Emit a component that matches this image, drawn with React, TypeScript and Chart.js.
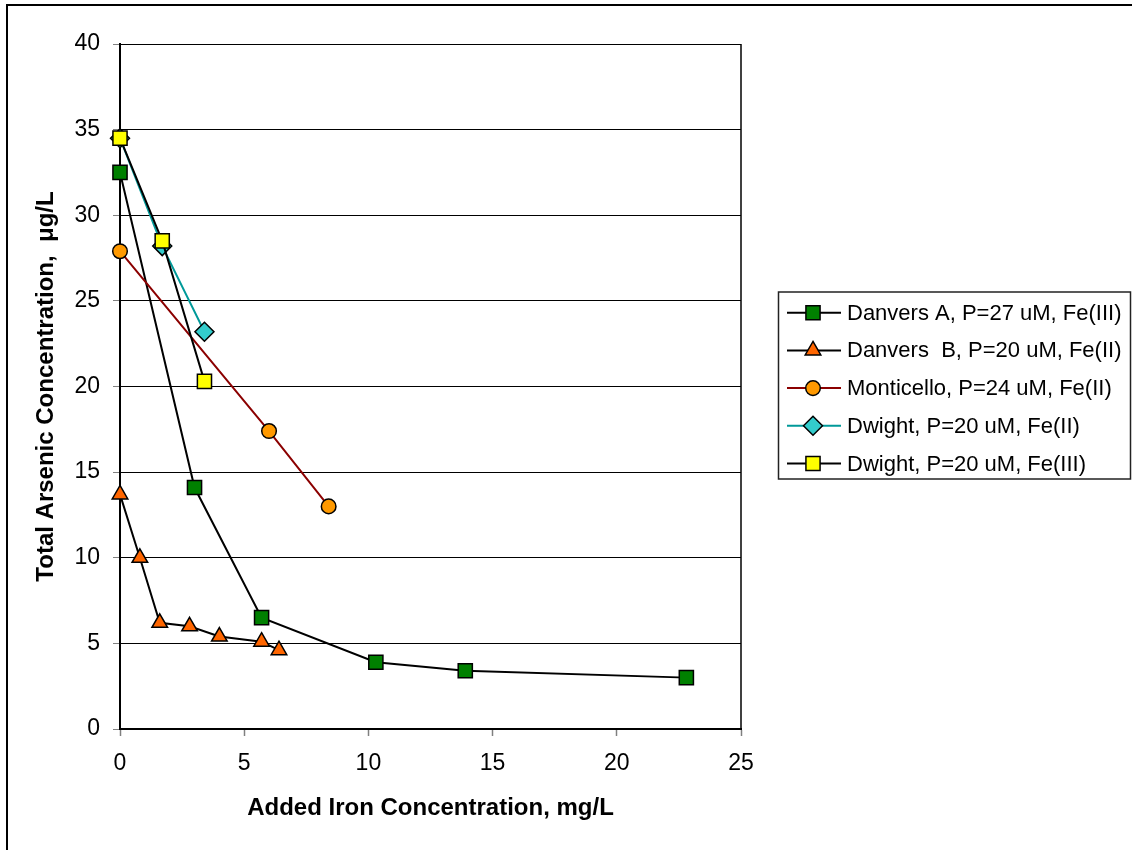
import React, { useEffect, useRef } from 'react';
import { Chart, registerables } from 'chart.js';

Chart.register(...registerables);

// ---- Data ----
const danversAX = [0, 3.0, 5.7, 10.3, 13.9, 22.8];
const danversAY = [32.5, 14.1, 6.5, 3.9, 3.4, 3.0];

const danversBX = [0, 0.8, 1.6, 2.8, 4.0, 5.7, 6.4];
const danversBY = [13.7, 10.0, 6.2, 6.0, 5.4, 5.1, 4.6];

const monticelloX = [0, 6.0, 8.4];
const monticelloY = [27.9, 17.4, 13.0];

const dwight2X = [0, 1.7, 3.4];
const dwight2Y = [34.5, 28.2, 23.2];

const dwight3X = [0, 1.7, 3.4];
const dwight3Y = [34.5, 28.5, 20.3];

const seriesNames = [
  'Danvers A, P=27 uM, Fe(III)',
  'Danvers  B, P=20 uM, Fe(II)',
  'Monticello, P=24 uM, Fe(II)',
  'Dwight, P=20 uM, Fe(II)',
  'Dwight, P=20 uM, Fe(III)',
];

const xAxisTitle = 'Added Iron Concentration, mg/L';
const yAxisTitle = 'Total Arsenic Concentration,  μg/L';
const xMin = 0, xMax = 25, xStep = 5;
const yMin = 0, yMax = 40, yStep = 5;

const FONT = '"Liberation Sans", Arial, Helvetica, sans-serif';

function pts(xs: number[], ys: number[]) {
  return xs.map((x, i) => ({ x, y: ys[i] }));
}

function drawMarker(ctx: CanvasRenderingContext2D, style: string, x: number, y: number, r: number) {
  ctx.beginPath();
  if (style === 'rect') {
    const s = Math.SQRT1_2 * r;
    ctx.rect(x - s, y - s, 2 * s, 2 * s);
  } else if (style === 'triangle') {
    let rad = 0;
    ctx.moveTo(x + Math.sin(rad) * r, y - Math.cos(rad) * r);
    rad += (2 * Math.PI) / 3;
    ctx.lineTo(x + Math.sin(rad) * r, y - Math.cos(rad) * r);
    rad += (2 * Math.PI) / 3;
    ctx.lineTo(x + Math.sin(rad) * r, y - Math.cos(rad) * r);
    ctx.closePath();
  } else if (style === 'circle') {
    ctx.arc(x, y, r, 0, Math.PI * 2);
  } else if (style === 'rectRot') {
    ctx.moveTo(x - r, y);
    ctx.lineTo(x, y - r);
    ctx.lineTo(x + r, y);
    ctx.lineTo(x, y + r);
    ctx.closePath();
  }
  ctx.fill();
  ctx.stroke();
}

const framePlugin = {
  id: 'framePlugin',
  beforeDraw(chart: any) {
    const ctx = chart.ctx;
    ctx.save();
    ctx.strokeStyle = '#000';
    ctx.lineWidth = 2;
    ctx.beginPath();
    ctx.moveTo(7, 850);
    ctx.lineTo(7, 5);
    ctx.lineTo(1132, 5);
    ctx.stroke();
    ctx.restore();
  },
  beforeDatasetsDraw(chart: any) {
    const ctx = chart.ctx;
    const area = chart.chartArea;
    ctx.save();
    ctx.strokeStyle = '#000';
    ctx.lineWidth = 1.5;
    ctx.beginPath();
    ctx.moveTo(area.right, area.top);
    ctx.lineTo(area.right, area.bottom);
    ctx.stroke();
    ctx.restore();
  },
  afterDraw(chart: any) {
    const ctx = chart.ctx;
    ctx.save();
    // legend
    const left = 778.5, top = 292, w = 352, h = 187;
    ctx.lineWidth = 1.5;
    ctx.strokeStyle = '#222';
    ctx.strokeRect(left, top, w, h);
    const rowY0 = 312.7, rowStep = 37.7;
    chart.data.datasets.forEach((ds: any, i: number) => {
      const y = rowY0 + i * rowStep;
      ctx.strokeStyle = ds.borderColor;
      ctx.lineWidth = ds.borderWidth;
      ctx.beginPath();
      ctx.moveTo(787, y);
      ctx.lineTo(841, y);
      ctx.stroke();
      ctx.fillStyle = ds.pointBackgroundColor;
      ctx.strokeStyle = ds.pointBorderColor;
      ctx.lineWidth = ds.pointBorderWidth;
      drawMarker(ctx, ds.pointStyle, 813, y, ds.pointRadius);
      ctx.fillStyle = '#000';
      ctx.font = `22px ${FONT}`;
      ctx.textAlign = 'left';
      ctx.textBaseline = 'middle';
      ctx.fillText(ds.label, 847, y + 1);
    });
    ctx.restore();
  },
};

export default function App() {
  const canvasRef = useRef<HTMLCanvasElement | null>(null);

  useEffect(() => {
    const canvas = canvasRef.current;
    if (!canvas) return;
    const common = {
      showLine: true,
      clip: false,
      borderWidth: 2,
      pointBorderColor: '#000',
      pointBorderWidth: 1.5,
      pointHoverRadius: 0,
    };
    const chart = new Chart(canvas, {
      type: 'scatter',
      data: {
        datasets: [
          {
            ...common,
            label: seriesNames[0],
            data: pts(danversAX, danversAY),
            borderColor: '#000000',
            pointBackgroundColor: '#008000',
            pointStyle: 'rect',
            pointRadius: 10,
            order: 4,
          },
          {
            ...common,
            label: seriesNames[1],
            data: pts(danversBX, danversBY),
            borderColor: '#000000',
            pointBackgroundColor: '#FF6600',
            pointStyle: 'triangle',
            pointRadius: 9,
            order: 3,
          },
          {
            ...common,
            label: seriesNames[2],
            data: pts(monticelloX, monticelloY),
            borderColor: '#8B0000',
            pointBackgroundColor: '#FF9900',
            pointStyle: 'circle',
            pointRadius: 7.3,
            order: 2,
          },
          {
            ...common,
            label: seriesNames[3],
            data: pts(dwight2X, dwight2Y),
            borderColor: '#009999',
            pointBackgroundColor: '#33CCCC',
            pointStyle: 'rectRot',
            pointRadius: 9.5,
            order: 1,
          },
          {
            ...common,
            label: seriesNames[4],
            data: pts(dwight3X, dwight3Y),
            borderColor: '#000000',
            pointBackgroundColor: '#FFFF00',
            pointStyle: 'rect',
            pointRadius: 10,
            order: 0,
          },
        ],
      },
      options: {
        responsive: false,
        animation: false,
        devicePixelRatio: 1,
        events: [],
        layout: { padding: { left: 0, top: 44, right: 391, bottom: 0 } },
        plugins: {
          legend: { display: false },
          tooltip: { enabled: false },
          title: { display: false },
        },
        scales: {
          x: {
            type: 'linear',
            min: xMin,
            max: xMax,
            afterFit(scale: any) {
              scale.height = 121;
            },
            ticks: {
              stepSize: xStep,
              color: '#000',
              font: { family: FONT, size: 23 },
              padding: 14,
              maxRotation: 0,
            },
            grid: {
              drawOnChartArea: false,
              drawTicks: true,
              tickLength: 7,
              tickColor: '#808080',
              tickWidth: 1.5,
            },
            border: { display: true, color: '#000', width: 2 },
            title: {
              display: true,
              text: xAxisTitle,
              color: '#000',
              font: { family: FONT, size: 24, weight: 'bold' },
              padding: { top: 0, bottom: 27 },
            },
          },
          y: {
            type: 'linear',
            min: yMin,
            max: yMax,
            afterFit(scale: any) {
              scale.width = 120;
            },
            ticks: {
              stepSize: yStep,
              color: '#000',
              font: { family: FONT, size: 23 },
              padding: 13,
            },
            grid: {
              color: '#000',
              lineWidth: 1,
              drawTicks: true,
              tickLength: 7,
              tickColor: '#808080',
            },
            border: { display: true, color: '#000', width: 2 },
            title: {
              display: true,
              text: yAxisTitle,
              color: '#000',
              font: { family: FONT, size: 24, weight: 'bold' },
              padding: { top: 32, bottom: 0 },
            },
          },
        },
      },
      plugins: [framePlugin],
    } as any);
    return () => chart.destroy();
  }, []);

  return (
    <div style={{ position: 'absolute', left: 0, top: 0, width: 1132, height: 850, background: '#fff' }}>
      <canvas ref={canvasRef} width={1132} height={850} style={{ display: 'block' }} />
    </div>
  );
}
